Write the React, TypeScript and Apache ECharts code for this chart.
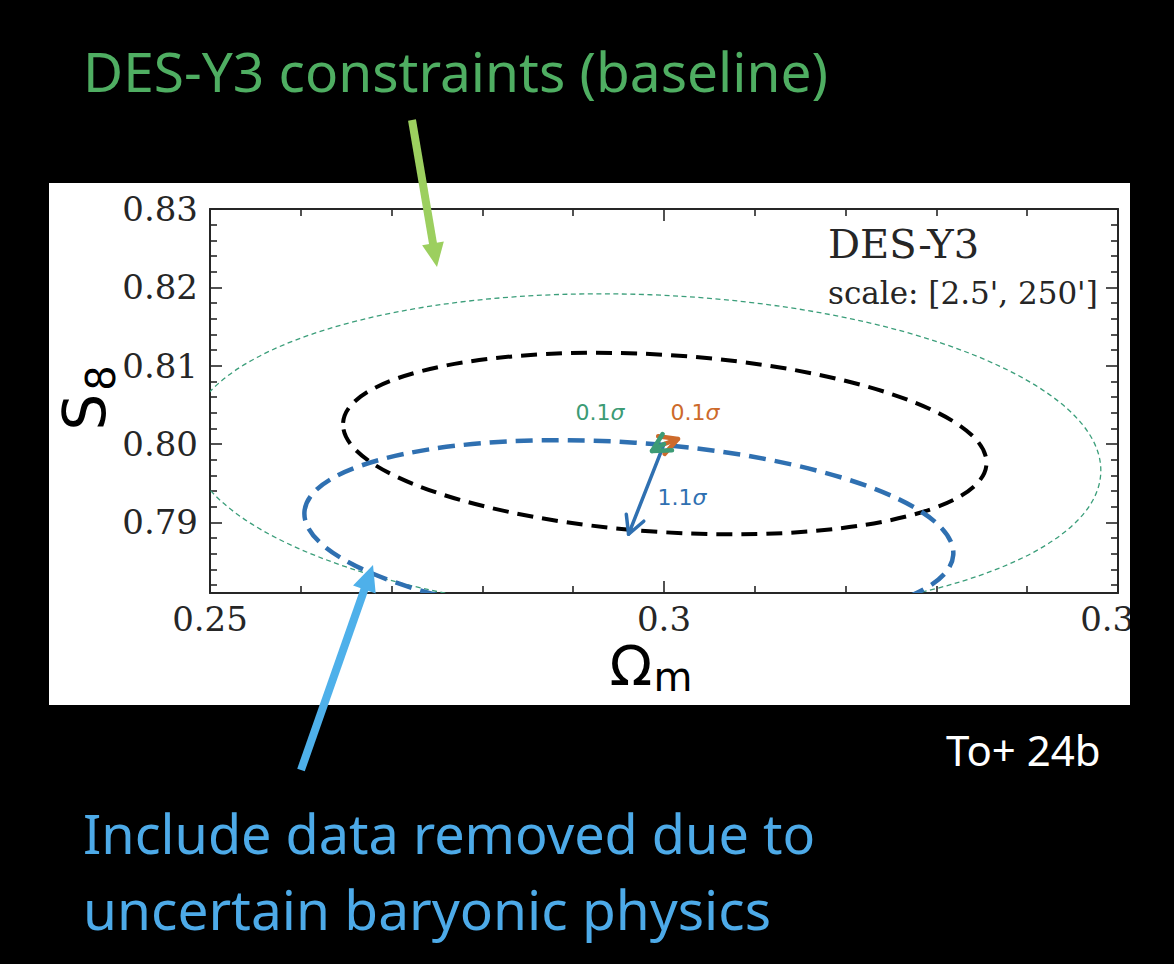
import React, { useEffect, useRef } from 'react';
import * as echarts from 'echarts';

// ---------- axis ranges & ticks ----------
const omegaRange = [0.25, 0.35];
const s8Range = [0.781, 0.83];
const xMajorTicks = [0.25, 0.3, 0.35];
const xTickLabels = ['0.25', '0.3', '0.35'];
const xMinorTicks = [0.26, 0.27, 0.28, 0.29, 0.31, 0.32, 0.33, 0.34];
const yMajorTicks = [0.79, 0.8, 0.81, 0.82, 0.83];
const yTickLabels = ['0.79', '0.80', '0.81', '0.82', '0.83'];
const yMinorTicks = [
  0.782, 0.784, 0.786, 0.788, 0.792, 0.794, 0.796, 0.798, 0.802, 0.804, 0.806, 0.808,
  0.812, 0.814, 0.816, 0.818, 0.822, 0.824, 0.826, 0.828,
];

// ---------- contours (ellipse approximations) ----------
const contourNames = ['DES-Y3 baseline', 'DES-Y3 reference', 'Including removed small scales'];
const contourCenterOm = [0.2979, 0.3001, 0.2961];
const contourCenterS8 = [0.7986, 0.8001, 0.7886];
const contourSemiOm = [0.0503, 0.0355, 0.0358];
const contourSemiS8 = [0.0205, 0.0113, 0.0116];
const contourTiltDeg = [2.15, 3.65, 3.8];
const contourColors = ['#3b9e7a', '#000000', '#2f70b1'];
const contourWidths = [1.3, 4, 4.5];
const contourDashes = [[5, 3.5], [16, 9], [17, 9]];

// ---------- shift arrows ----------
const shiftNames = ['blue shift', 'orange shift', 'green shift'];
const shiftStartOm = [0.3, 0.3, 0.3];
const shiftStartS8 = [0.8, 0.8, 0.8];
const shiftEndOm = [0.2961, 0.30154, 0.29868];
const shiftEndS8 = [0.7885, 0.80065, 0.79912];
const shiftColors = ['#2f70b1', '#cd6a2b', '#3c9b75'];
const shiftWidths = [3.5, 4.5, 4.5];

// ---------- shift labels ----------
const shiftLabelNum = ['1.1', '0.1', '0.1'];
const shiftLabelOm = [0.30198, 0.30341, 0.29295];
const shiftLabelS8 = [0.79325, 0.80397, 0.80397];

const SERIF = 'DejaVu Serif';
const SANS = 'Noto Sans';
const AXC = '#262626';

function outerArrow(x1: number, y1: number, x2: number, y2: number, color: string, w: number, headLen: number, headW: number) {
  const dx = x2 - x1, dy = y2 - y1;
  const L = Math.sqrt(dx * dx + dy * dy);
  const ux = dx / L, uy = dy / L;
  const bx = x2 - ux * headLen, by = y2 - uy * headLen;
  const px = -uy, py = ux;
  return [
    { type: 'line', shape: { x1, y1, x2: bx + ux * 2, y2: by + uy * 2 }, style: { stroke: color, lineWidth: w }, z: 50 },
    {
      type: 'polygon',
      shape: { points: [[x2, y2], [bx + px * headW / 2, by + py * headW / 2], [bx - px * headW / 2, by - py * headW / 2]] },
      style: { fill: color },
      z: 50,
    },
  ];
}

export default function App() {
  const ref = useRef<HTMLDivElement>(null);
  useEffect(() => {
    if (!ref.current) return;
    const chart = echarts.init(ref.current, undefined, { renderer: 'svg' });

    const contourData = contourNames.map((n, i) => ({
      name: n,
      value: [contourCenterOm[i], contourCenterS8[i], contourSemiOm[i], contourSemiS8[i], contourTiltDeg[i], i],
    }));
    const shiftData = shiftNames.map((n, i) => ({
      name: n,
      value: [shiftStartOm[i], shiftStartS8[i], shiftEndOm[i], shiftEndS8[i], i],
    }));
    const labelData = shiftLabelNum.map((t, i) => ({ name: t + 'σ', value: [shiftLabelOm[i], shiftLabelS8[i], i] }));

    const xBase = { type: 'value', min: omegaRange[0], max: omegaRange[1], splitLine: { show: false } };
    const yBase = { type: 'value', min: s8Range[0], max: s8Range[1], splitLine: { show: false } };
    const tickStyle = { color: AXC, width: 1.6 };

    const option: any = {
      animation: false,
      backgroundColor: '#000000',
      grid: { left: 210, top: 209, width: 908, height: 384, containLabel: false },
      xAxis: [
        {
          ...xBase,
          position: 'bottom',
          axisLine: { show: true, onZero: false, lineStyle: { color: AXC, width: 2 } },
          axisTick: { show: true, inside: true, length: 12, customValues: xMajorTicks, lineStyle: tickStyle },
          axisLabel: {
            show: true,
            customValues: xMajorTicks,
            formatter: (v: number) => xTickLabels[xMajorTicks.findIndex((t) => Math.abs(t - v) < 1e-9)] ?? '',
            fontFamily: SERIF,
            fontSize: 34,
            color: AXC,
            margin: 9,
          },
        },
        {
          ...xBase,
          position: 'bottom',
          axisLine: { show: false },
          axisTick: { show: true, inside: true, length: 7, customValues: xMinorTicks, lineStyle: tickStyle },
          axisLabel: { show: false },
        },
        {
          ...xBase,
          position: 'top',
          axisLine: { show: true, onZero: false, lineStyle: { color: AXC, width: 2 } },
          axisTick: { show: true, inside: true, length: 12, customValues: xMajorTicks, lineStyle: tickStyle },
          axisLabel: { show: false },
        },
        {
          ...xBase,
          position: 'top',
          axisLine: { show: false },
          axisTick: { show: true, inside: true, length: 7, customValues: xMinorTicks, lineStyle: tickStyle },
          axisLabel: { show: false },
        },
      ],
      yAxis: [
        {
          ...yBase,
          position: 'left',
          axisLine: { show: true, onZero: false, lineStyle: { color: AXC, width: 2 } },
          axisTick: { show: true, inside: true, length: 12, customValues: yMajorTicks, lineStyle: tickStyle },
          axisLabel: {
            show: true,
            customValues: yMajorTicks,
            formatter: (v: number) => yTickLabels[yMajorTicks.findIndex((t) => Math.abs(t - v) < 1e-9)] ?? '',
            fontFamily: SERIF,
            fontSize: 34,
            color: AXC,
            margin: 12,
          },
        },
        {
          ...yBase,
          position: 'left',
          axisLine: { show: false },
          axisTick: { show: true, inside: true, length: 7, customValues: yMinorTicks, lineStyle: tickStyle },
          axisLabel: { show: false },
        },
        {
          ...yBase,
          position: 'right',
          axisLine: { show: true, onZero: false, lineStyle: { color: AXC, width: 2 } },
          axisTick: { show: true, inside: true, length: 12, customValues: yMajorTicks, lineStyle: tickStyle },
          axisLabel: { show: false },
        },
        {
          ...yBase,
          position: 'right',
          axisLine: { show: false },
          axisTick: { show: true, inside: true, length: 7, customValues: yMinorTicks, lineStyle: tickStyle },
          axisLabel: { show: false },
        },
      ],
      series: [
        {
          type: 'custom',
          name: 'contours',
          xAxisIndex: 0,
          yAxisIndex: 0,
          data: contourData,
          z: 3,
          renderItem: (params: any, api: any) => {
            const c = api.coord([api.value(0), api.value(1)]);
            const rx = api.size([api.value(2), 0])[0];
            const ry = api.size([0, api.value(3)])[1];
            const i = api.value(5);
            const cs = params.coordSys;
            return {
              type: 'group',
              clipPath: { type: 'rect', shape: { x: cs.x, y: cs.y, width: cs.width, height: cs.height } },
              children: [
                {
                  type: 'ellipse',
                  shape: { cx: c[0], cy: c[1], rx, ry },
                  originX: c[0],
                  originY: c[1],
                  rotation: (-api.value(4) * Math.PI) / 180,
                  style: {
                    fill: 'none',
                    stroke: contourColors[i],
                    lineWidth: contourWidths[i],
                    lineDash: contourDashes[i],
                  },
                },
              ],
            };
          },
        },
        {
          type: 'custom',
          name: 'shifts',
          xAxisIndex: 0,
          yAxisIndex: 0,
          data: shiftData,
          z: 4,
          renderItem: (params: any, api: any) => {
            const p1 = api.coord([api.value(0), api.value(1)]);
            const p2 = api.coord([api.value(2), api.value(3)]);
            const i = api.value(4);
            const ang = Math.atan2(p2[1] - p1[1], p2[0] - p1[0]);
            const hl = 20, hw = (28 * Math.PI) / 180;
            const a1 = [p2[0] - hl * Math.cos(ang - hw), p2[1] - hl * Math.sin(ang - hw)];
            const a2 = [p2[0] - hl * Math.cos(ang + hw), p2[1] - hl * Math.sin(ang + hw)];
            const st = { stroke: shiftColors[i], lineWidth: shiftWidths[i], fill: 'none', lineCap: 'round', lineJoin: 'round' };
            return {
              type: 'group',
              children: [
                { type: 'line', shape: { x1: p1[0], y1: p1[1], x2: p2[0], y2: p2[1] }, style: st },
                { type: 'polyline', shape: { points: [a1, p2, a2] }, style: st },
              ],
            };
          },
        },
        {
          type: 'custom',
          name: 'shift labels',
          xAxisIndex: 0,
          yAxisIndex: 0,
          data: labelData,
          z: 5,
          renderItem: (params: any, api: any) => {
            const p = api.coord([api.value(0), api.value(1)]);
            const i = api.value(2);
            return {
              type: 'text',
              x: p[0],
              y: p[1],
              style: {
                text: `{n|${shiftLabelNum[i]}}{s|σ}`,
                align: 'center',
                verticalAlign: 'middle',
                rich: {
                  n: { fontFamily: 'DejaVu Sans', fontSize: 22, fill: shiftColors[i], color: shiftColors[i] },
                  s: { fontFamily: 'DejaVu Sans', fontStyle: 'italic', fontSize: 22, fill: shiftColors[i], color: shiftColors[i] },
                },
              },
            };
          },
        },
      ],
      graphic: {
        elements: [
          { type: 'rect', shape: { x: 49, y: 183, width: 1081, height: 522 }, style: { fill: '#ffffff' }, z: -10 },
          { type: 'rect', shape: { x: 1130, y: 595, width: 44, height: 60 }, style: { fill: '#000000' }, z: 100 },
          {
            type: 'text', x: 828, y: 244, z: 10,
            style: { text: 'DES-Y3', fontFamily: SERIF, fontSize: 40, fill: AXC, align: 'left', verticalAlign: 'middle' },
          },
          {
            type: 'text', x: 828, y: 293, z: 10,
            style: { text: "scale: [2.5', 250']", fontFamily: SERIF, fontSize: 31, fill: AXC, align: 'left', verticalAlign: 'middle' },
          },
          {
            type: 'group', x: 85, y: 400, rotation: Math.PI / 2, z: 10,
            children: [
              { type: 'text', x: -12, y: 0, style: { text: 'S', fontFamily: 'DejaVu Sans', fontSize: 58, fill: '#000', align: 'center', verticalAlign: 'middle' } },
              { type: 'text', x: 22, y: 16, style: { text: '8', fontFamily: 'DejaVu Sans', fontSize: 40, fill: '#000', align: 'center', verticalAlign: 'middle' } },
            ],
          },
          { type: 'text', x: 631, y: 665, z: 10, style: { text: 'Ω', fontFamily: 'DejaVu Sans', fontSize: 56, fill: '#000', align: 'center', verticalAlign: 'middle' } },
          { type: 'text', x: 673, y: 677, z: 10, style: { text: 'm', fontFamily: 'DejaVu Sans', fontSize: 40, fill: '#000', align: 'center', verticalAlign: 'middle' } },
          {
            type: 'text', x: 83, y: 70, z: 10,
            style: { text: 'DES-Y3 constraints (baseline)', fontFamily: SANS, fontSize: 55, fill: '#4fae62', align: 'left', verticalAlign: 'middle' },
          },
          {
            type: 'text', x: 83, y: 833, z: 10,
            style: { text: 'Include data removed due to', fontFamily: SANS, fontSize: 54, fill: '#4daae8', align: 'left', verticalAlign: 'middle' },
          },
          {
            type: 'text', x: 83, y: 908, z: 10,
            style: { text: 'uncertain baryonic physics', fontFamily: SANS, fontSize: 55, fill: '#4daae8', align: 'left', verticalAlign: 'middle' },
          },
          {
            type: 'text', x: 946, y: 749, z: 10,
            style: { text: 'To+ 24b', fontFamily: SANS, fontSize: 42, fill: '#ffffff', align: 'left', verticalAlign: 'middle' },
          },
          ...outerArrow(412, 120, 437, 267, '#9ccf5f', 8, 24, 22),
          ...outerArrow(301, 770, 373, 565, '#4eb0ea', 8, 26, 24),
        ],
      },
    };
    chart.setOption(option);
    return () => chart.dispose();
  }, []);
  return (
    <div style={{ position: 'absolute', left: 0, top: 0, width: 1174, height: 964, background: '#000' }}>
      <div ref={ref} style={{ width: 1174, height: 964 }} />
    </div>
  );
}
